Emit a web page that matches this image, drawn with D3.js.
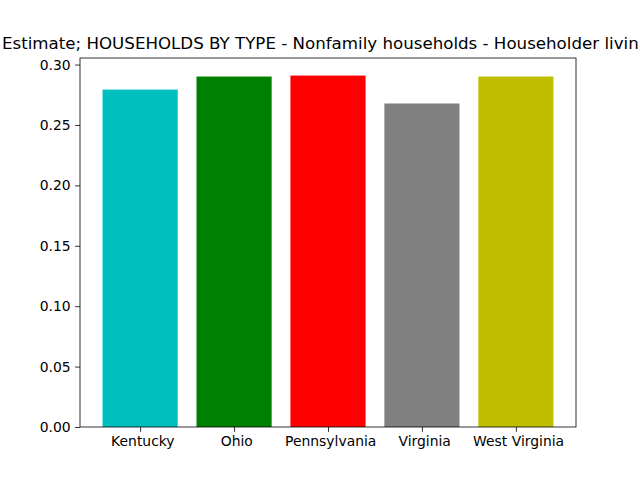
<!DOCTYPE html>
<html>
<head>
<meta charset="utf-8">
<script src="https://cdn.jsdelivr.net/npm/d3@7"></script>
<style>
  body { margin: 0; background: #fff; }
  svg { display: block; font-family: "DejaVu Sans", sans-serif; }
</style>
</head>
<body>
<div id="chart"></div>
<script>
// data
var states = ["Kentucky", "Ohio", "Pennsylvania", "Virginia", "West Virginia"];
var values = [0.2793, 0.2901, 0.2909, 0.2678, 0.2901];
var colors = ["#00bfbf", "#008000", "#ff0000", "#808080", "#bfbf00"];
var yTicks = [0.00, 0.05, 0.10, 0.15, 0.20, 0.25, 0.30];
// only the part of the title that fits inside the figure is visible
var title = "Estimate; HOUSEHOLDS BY TYPE - Nonfamily households - Householder livin";

var width = 640,
    height = 480;
var margin = {top: 58, right: 64, bottom: 53, left: 80};
var innerW = width - margin.left - margin.right,
    innerH = height - margin.top - margin.bottom;

var svg = d3.select("#chart")
  .append("svg")
  .attr("width", width)
  .attr("height", height);

// matplotlib-like x scale: bars of width 0.8 at integer positions, 5% margins
var span = (states.length - 1) + 0.8;
var x = d3.scaleLinear()
  .domain([-0.4 - span * 0.05, states.length - 1 + 0.4 + span * 0.05])
  .range([margin.left, margin.left + innerW]);

var y = d3.scaleLinear()
  .domain([0, d3.max(values) * 1.05])
  .range([margin.top + innerH, margin.top]);

// bars
svg.append("g")
  .selectAll("rect")
  .data(values)
  .enter().append("rect")
    .attr("x", function(d, i) { return x(i - 0.4); })
    .attr("width", function(d, i) { return x(i + 0.4) - x(i - 0.4); })
    .attr("y", function(d) { return y(d); })
    .attr("height", function(d) { return y(0) - y(d); })
    .attr("fill", function(d, i) { return colors[i]; });

// y axis
var yAxis = svg.append("g")
  .attr("transform", "translate(" + margin.left + ",0)")
  .call(d3.axisLeft(y).tickValues(yTicks).tickFormat(d3.format(".2f")).tickSize(4.9).tickPadding(4.5));

// x axis
var xAxis = svg.append("g")
  .attr("transform", "translate(0," + (margin.top + innerH) + ")")
  .call(d3.axisBottom(x).tickValues(d3.range(states.length))
    .tickFormat(function(i) { return " " + states[i]; }).tickSize(4.9).tickPadding(4.5));

[yAxis, xAxis].forEach(function(a) {
  a.select(".domain").remove();
  a.selectAll("line").attr("stroke", "#000").attr("stroke-width", 0.8);
  a.selectAll("text")
    .attr("fill", "#000")
    .style("font-size", "13.9px")
    .style("font-family", "'DejaVu Sans', sans-serif")
    .style("white-space", "pre");
});

// axes frame
svg.append("rect")
  .attr("x", margin.left)
  .attr("y", margin.top)
  .attr("width", innerW)
  .attr("height", innerH)
  .attr("fill", "none")
  .attr("stroke", "#000")
  .attr("stroke-width", 0.8);

// title
svg.append("text")
  .attr("x", 2)
  .attr("y", 49)
  .attr("fill", "#000")
  .style("font-size", "16.67px")
  .text(title);
</script>
</body>
</html>
